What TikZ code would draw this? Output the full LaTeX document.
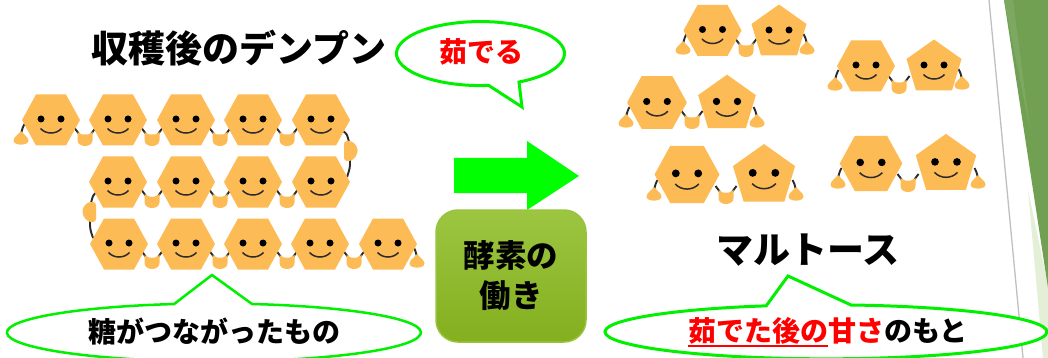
\documentclass[tikz,border=0pt]{standalone}
\usepackage{fontspec}
\setmainfont{Noto Sans CJK JP}
\usepackage{tikz}
\usetikzlibrary{positioning, calc}

\definecolor{blobcolor}{HTML}{FDBB56}
\definecolor{armcolor}{HTML}{2B2B2B}
\definecolor{leafcolor}{HTML}{72A053}
\definecolor{leafpale}{HTML}{E4EFD8}
\definecolor{boxtop}{HTML}{9CC641}
\definecolor{boxbottom}{HTML}{84AF1E}

\begin{document}
\begin{tikzpicture}
    [x=1pt, y=-1pt,
    titlenode/.style={inner sep=0pt, font=\bfseries\fontsize{37}{40}\selectfont},
    saynode/.style={inner sep=0pt, font=\bfseries\fontsize{28}{32}\selectfont},
    bubble/.style={draw={rgb,255:red,0;green,240;blue,0}, fill=white, line width=3pt, line join=miter},
    arm/.style={draw=armcolor, line width=1.9pt},
    hexface/.pic={
        \fill[blobcolor] (-29,0)--(-15,-25.5)--(15,-25.5)--(29,0)--(15,25.5)--(-15,25.5)--cycle;
        \fill[black] (-10,-1) circle (3.5) (10,-1) circle (3.5);
        \draw[armcolor, line width=1.5pt] (-10.5,8.5) .. controls (-5,14.5) and (5,14.5) .. (10.5,8.5);
    },
    pentface/.pic={
        \fill[blobcolor] (0,-26.5)--(27.5,-7)--(18,24.5)--(-18,24.5)--(-27.5,-7)--cycle;
        \fill[black] (-10,-1) circle (3.5) (10,-1) circle (3.5);
        \draw[armcolor, line width=1.5pt] (-10.5,8.5) .. controls (-5,14.5) and (5,14.5) .. (10.5,8.5);
    },
    cuphand/.pic={
        \draw[arm] (-10.5,-11) .. controls (-9,-8) .. (-6,-5);
        \draw[arm] (10.5,-11) .. controls (9,-8) .. (6,-5);
        \fill[blobcolor] (-7.5,-7)--(-3,-4.5)--(3,-4.5)--(7.5,-7)--(7.5,1) .. controls (7.5,9) and (-7.5,9) .. (-7.5,1)--cycle;
    },
    endhand/.pic={
        \draw[arm] (3.5,-15) .. controls (1.5,-11) .. (0,-5);
        \fill[blobcolor] (0,-8) .. controls (2,-5) and (7.5,-2) .. (7.5,1.5)
            .. controls (7.5,7) and (-7.5,7) .. (-7.5,1.5)
            .. controls (-7.5,-2) and (-2,-5) .. (0,-8)--cycle;
    },
    sidehand/.pic={
        \draw[arm] (-8,-20) .. controls (-4,-17) .. (-2,-9);
        \draw[arm] (-1,9) .. controls (-1,17) .. (-4,26);
        \fill[blobcolor, rounded corners=3pt] (-7,-10)--(1,-10)--(6.5,-4)--(6.5,3)--(1,10)--(-7,10)--cycle;
    }]

    \useasboundingbox (0,0) rectangle (1048,358);
    \clip (0,0) rectangle (1048,358);

    %Corner
    \fill[leafpale] (1028,190)--(1048,285)--(1048,358)--(1043,358)--cycle;
    \fill[leafcolor] (1004,0)--(1048,0)--(1048,288)--cycle;
    \fill[leafcolor!92!white] (1004,0)--(1013,0)--(1030,130)--cycle;
    \draw[black!25, line width=1.3pt] (989,0)--(1023,358);

    %Hands
    \pic at (21,139) {endhand};
    \pic at (85,139) {cuphand};
    \pic at (152,139) {cuphand};
    \pic at (220,139) {cuphand};
    \pic at (287,139) {cuphand};
    \pic at (351,151) {sidehand};
    \pic at (152,201) {cuphand};
    \pic at (220,201) {cuphand};
    \pic at (287,201) {cuphand};
    \pic[xscale=-1] at (89,212) {sidehand};
    \pic at (152,262) {cuphand};
    \pic at (220,262) {cuphand};
    \pic at (287,262) {cuphand};
    \pic at (354,262) {cuphand};
    \pic[xscale=-1] at (417,262) {endhand};

    \pic at (683,49) {endhand};
    \pic at (746,50) {cuphand};
    \pic[xscale=-1] at (807,49) {endhand};
    \pic at (626,122) {endhand};
    \pic at (692,122) {cuphand};
    \pic[xscale=-1] at (757,122) {endhand};
    \pic at (835,85) {endhand};
    \pic at (899,87) {cuphand};
    \pic[xscale=-1] at (962,84) {endhand};
    \pic at (654,195) {endhand};
    \pic at (726,197) {cuphand};
    \pic[xscale=-1] at (796,195) {endhand};
    \pic at (838,183) {endhand};
    \pic at (908,185) {cuphand};
    \pic[xscale=-1] at (978,183) {endhand};

    %Chain
    \pic at (51,120) {hexface};
    \pic at (118,120) {hexface};
    \pic at (186,120) {hexface};
    \pic at (253,120) {hexface};
    \pic at (321,120) {hexface};
    \pic at (118,182) {hexface};
    \pic at (186,182) {hexface};
    \pic at (253,182) {hexface};
    \pic at (321,182) {hexface};
    \pic at (119,244) {hexface};
    \pic at (186,244) {hexface};
    \pic at (253,244) {hexface};
    \pic at (320,244) {hexface};
    \pic at (388,244) {hexface};

    %Pairs
    \pic at (712.5,30.5) {hexface};
    \pic at (779,31) {pentface};
    \pic[scale=1.03] at (657,102.5) {hexface};
    \pic[scale=1.05] at (727,102.5) {pentface};
    \pic at (866,66) {hexface};
    \pic at (934,66) {pentface};
    \pic[scale=1.12] at (687,174.5) {hexface};
    \pic[scale=1.13] at (764,174) {pentface};
    \pic[scale=1.08] at (871,163.5) {hexface};
    \pic[scale=1.1] at (946,163) {pentface};

    %Arrow and enzyme box
    \fill[green] (454,158)--(527,158)--(527,141)--(579,176)--(527,210)--(527,193)--(454,193)--cycle;
    \node[draw=boxtop!85!boxbottom, line width=1.5pt, rounded corners=22pt,
        top color=boxtop, bottom color=boxbottom,
        minimum width=150pt, minimum height=132pt, inner sep=0pt, align=center,
        font=\bfseries\fontsize{31.5}{40}\selectfont] (enzyme) at (511,276) {酵素の\\働き};

    %Bubbles
    \draw[bubble] (519,82) arc[start angle=62.7, end angle=-275.6, x radius=84, y radius=32]
        --(522,107)--cycle;
    \draw[bubble, line width=2.5pt] (252,304) arc[start angle=280.6, end angle=618.9, x radius=207, y radius=29]
        --(212,275)--cycle;
    \draw[bubble] (851,305) arc[start angle=276.5, end angle=614.3, x radius=221, y radius=27]
        --(788,276)--cycle;

    %Labels
    \node[titlenode](raw) at (239,48){収穫後のデンプン};
    \node[titlenode](maltose) at (808,250){マルトース};
    \node[saynode, text=red](boil) at (481,52){茹でる};
    \node[saynode](chain) at (214,332){糖がつながったもの};
    \node[saynode](sweet) at (828,332){\textcolor{red}{\rlap{\rule[-5pt]{140pt}{2pt}}茹でた後の甘さ}のもと};
\end{tikzpicture}
\end{document}
